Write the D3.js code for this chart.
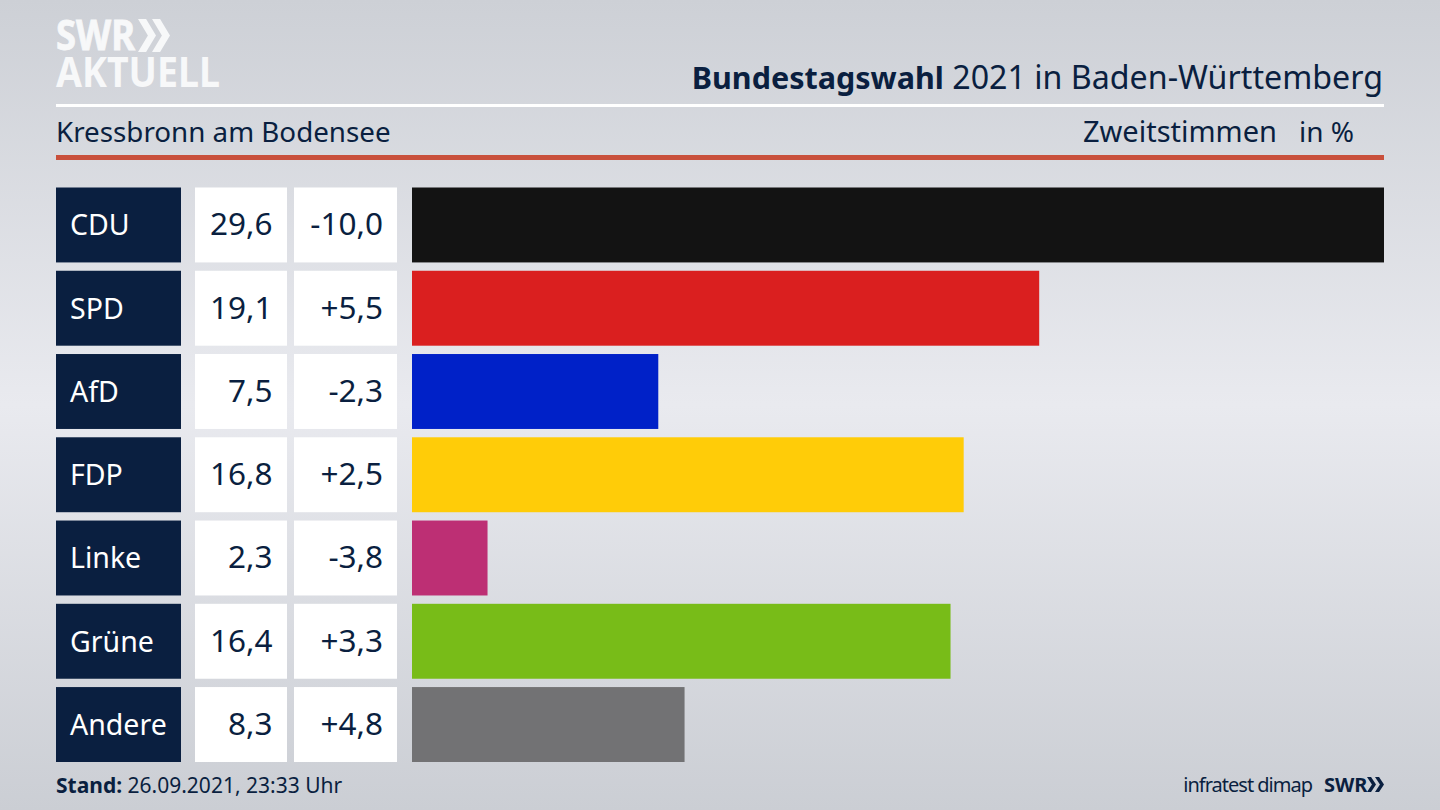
<!DOCTYPE html>
<html>
<head>
<meta charset="utf-8">
<script src="https://cdn.jsdelivr.net/npm/d3@7"></script>
<style>
  html, body { margin: 0; padding: 0; background: #d8dade; overflow: hidden; }
  text { font-family: "Noto Sans", sans-serif; }
</style>
</head>
<body>
<div id="chart"></div>
<script>
const parties = ['CDU', 'SPD', 'AfD', 'FDP', 'Linke', 'Grüne', 'Andere'];
const shares = [29.6, 19.1, 7.5, 16.8, 2.3, 16.4, 8.3];
const changes = [-10.0, 5.5, -2.3, 2.5, -3.8, 3.3, 4.8];
const partyColors = ['#131313', '#da1f1f', '#0021c8', '#ffcc08', '#bd2f74', '#78bc18', '#727274'];

const WIDTH = 1440, HEIGHT = 810;
const NAVY = '#0a1f40';

const comma = d3.format('.1f');
const fmtShare = v => comma(v).replace('.', ',');
const fmtChange = v => (v > 0 ? '+' : '-') + comma(Math.abs(v)).replace('.', ',');

const svg = d3.select('#chart').append('svg')
    .attr('width', WIDTH)
    .attr('height', HEIGHT)
    .style('display', 'block');

// Background
const defs = svg.append('defs');
const grad = defs.append('linearGradient')
    .attr('id', 'bg')
    .attr('x1', 0).attr('y1', 0).attr('x2', 0).attr('y2', 1);
grad.append('stop').attr('offset', '0%').attr('stop-color', '#cdd0d6');
grad.append('stop').attr('offset', '50%').attr('stop-color', '#e9eaef');
grad.append('stop').attr('offset', '100%').attr('stop-color', '#cbced4');
svg.append('rect')
    .attr('width', WIDTH)
    .attr('height', HEIGHT)
    .attr('fill', 'url(#bg)');

// Rows
const yScale = d3.scaleBand()
    .domain(parties)
    .range([187.5, 762])
    .paddingInner(0.1);
const xScale = d3.scaleLinear()
    .domain([0, d3.max(shares)])
    .range([412, 1384]);

const rows = svg.selectAll('g.row')
    .data(parties.map((p, i) => ({ party: p, share: shares[i], change: changes[i], color: partyColors[i] })))
    .join('g')
    .attr('class', 'row')
    .attr('transform', d => `translate(0, ${yScale(d.party)})`);

const rowH = yScale.bandwidth();

rows.append('rect')
    .attr('x', 56).attr('width', 125).attr('height', rowH)
    .attr('fill', NAVY);
rows.append('rect')
    .attr('x', 195).attr('width', 92).attr('height', rowH)
    .attr('fill', '#fff');
rows.append('rect')
    .attr('x', 294).attr('width', 103).attr('height', rowH)
    .attr('fill', '#fff');
rows.append('rect')
    .attr('class', 'bar')
    .attr('x', xScale(0))
    .attr('width', d => xScale(d.share) - xScale(0))
    .attr('height', rowH)
    .attr('fill', d => d.color);

rows.append('text')
    .text(d => d.party)
    .attr('x', 70).attr('y', rowH / 2 + 10.5)
    .attr('font-size', 28.5)
    .attr('fill', '#fff');
rows.append('text')
    .text(d => fmtShare(d.share))
    .attr('x', 272.5).attr('y', rowH / 2 + 10.5)
    .attr('text-anchor', 'end')
    .attr('font-size', 31.5)
    .attr('fill', NAVY);
rows.append('text')
    .text(d => fmtChange(d.change))
    .attr('x', 383).attr('y', rowH / 2 + 10.5)
    .attr('text-anchor', 'end')
    .attr('font-size', 31.5)
    .attr('fill', NAVY);

// Header rules
svg.append('rect').attr('x', 56).attr('y', 104).attr('width', 1328).attr('height', 3).attr('fill', '#fff');
svg.append('rect').attr('x', 56).attr('y', 155).attr('width', 1328).attr('height', 5).attr('fill', '#c9503c');

// Header text
const title = svg.append('text')
    .attr('x', 1383).attr('y', 89)
    .attr('text-anchor', 'end')
    .attr('font-size', 32.2)
    .attr('fill', NAVY);
title.append('tspan').attr('font-weight', 700).attr('font-size', 30.5).text('Bundestagswahl');
title.append('tspan').text(' 2021 in Baden-Württemberg');

svg.append('text').text('Kressbronn am Bodensee')
    .attr('x', 56).attr('y', 142)
    .attr('font-size', 27.75)
    .attr('fill', NAVY);
svg.append('text').text('Zweitstimmen')
    .attr('x', 1277).attr('y', 142)
    .attr('text-anchor', 'end')
    .attr('font-size', 29)
    .attr('fill', NAVY);
svg.append('text').text('in %')
    .attr('x', 1354).attr('y', 142)
    .attr('text-anchor', 'end')
    .attr('font-size', 28)
    .attr('fill', NAVY);

// Footer
const stand = svg.append('text')
    .attr('x', 56).attr('y', 793)
    .attr('font-size', 21)
    .attr('fill', NAVY);
stand.append('tspan').attr('font-weight', 700).text('Stand:');
stand.append('tspan').text(' 26.09.2021, 23:33 Uhr');

svg.append('text').text('infratest dimap')
    .attr('x', 1312).attr('y', 792)
    .attr('text-anchor', 'end')
    .attr('font-size', 20)
    .attr('letter-spacing', -1)
    .attr('fill', NAVY);

// Logos
function chevrons(x, y, h, w, gap, fill) {
    [0, gap].forEach(dx => {
        svg.append('path')
            .attr('d', `M${x + dx},${y} l${w * 0.45},0 l${w * 0.55},${h / 2} l${-w * 0.55},${h / 2} l${-w * 0.45},0 l${w * 0.55},${-h / 2} Z`)
            .attr('fill', fill);
    });
}
svg.append('text').text('SWR')
    .attr('x', 56).attr('y', 50)
    .attr('font-size', 42)
    .attr('font-weight', 700)
    .attr('textLength', 79)
    .attr('lengthAdjust', 'spacingAndGlyphs')
    .attr('stroke', '#f7f8f9')
    .attr('stroke-width', 0.8)
    .attr('fill', '#f7f8f9');
chevrons(138, 19, 33, 18, 14, '#f7f8f9');
svg.append('text').text('AKTUELL')
    .attr('x', 56).attr('y', 87)
    .attr('font-size', 41)
    .attr('font-weight', 700)
    .attr('textLength', 164)
    .attr('lengthAdjust', 'spacingAndGlyphs')
    .attr('fill', '#f7f8f9');
svg.append('text').text('SWR')
    .attr('x', 1324).attr('y', 792)
    .attr('font-size', 20)
    .attr('font-weight', 700)
    .attr('fill', NAVY);
chevrons(1367, 777, 15, 9, 8, NAVY);
</script>
</body>
</html>
